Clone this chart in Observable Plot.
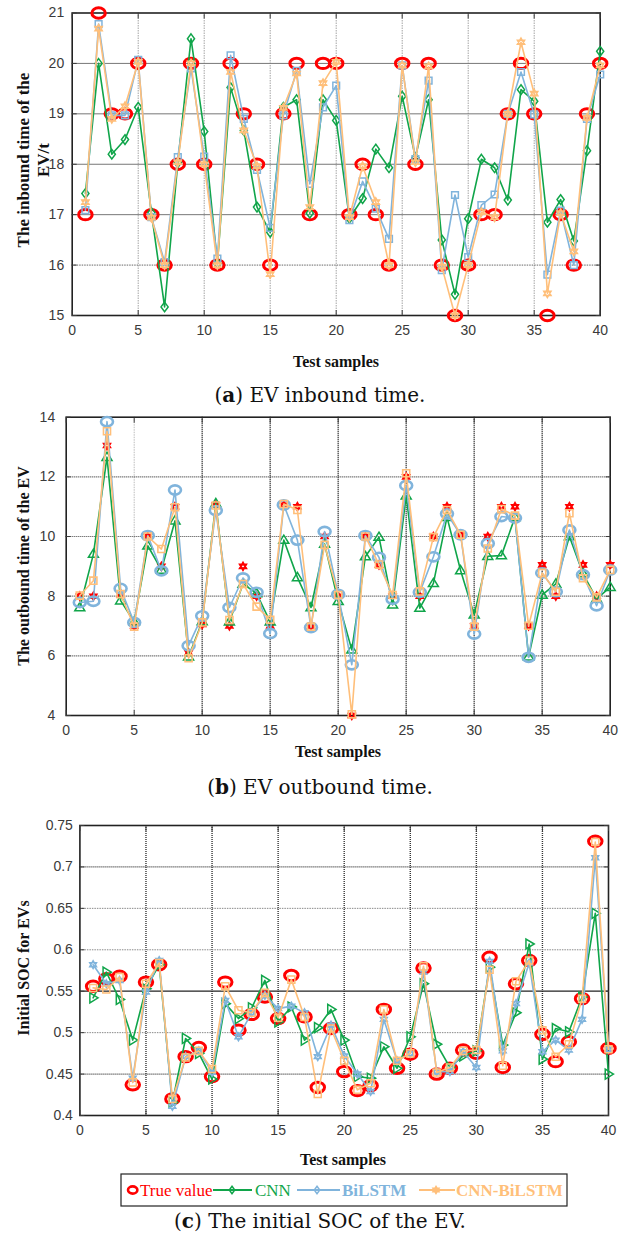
<!DOCTYPE html>
<html>
<head>
<meta charset="utf-8">
<script src="https://cdn.jsdelivr.net/npm/d3@7"></script>
<script src="https://cdn.jsdelivr.net/npm/@observablehq/plot@0.6"></script>
<style>
  body { margin: 0; background: #fff; }
  #root { position: relative; width: 620px; height: 1239px; overflow: hidden; background: #fff; }
  .panel { position: absolute; left: 0; }
  .cap { position: absolute; left: 0; width: 640px; text-align: center; font-family: "DejaVu Serif", serif; font-size: 20px; color: #111; transform: translateY(-50%); white-space: nowrap; }
  .xl { position: absolute; font-family: "Liberation Serif", serif; font-weight: bold; font-size: 16px; color: #111; transform: translate(-50%, -50%); white-space: nowrap; }
  .yl { position: absolute; font-family: "Liberation Serif", serif; font-weight: bold; font-size: 16px; color: #111; transform: translate(-50%, -50%) rotate(-90deg); white-space: nowrap; text-align: center; line-height: 20px; }
</style>
</head>
<body>
<div id="root"></div>
<script>
// ---------------- data ----------------
const samples = [1,2,3,4,5,6,7,8,9,10,11,12,13,14,15,16,17,18,19,20,21,22,23,24,25,26,27,28,29,30,31,32,33,34,35,36,37,38,39,40];
const xTicks = [0,5,10,15,20,25,30,35,40];

// (a) inbound time
const inTicks = [15,16,17,18,19,20,21];
const inTrue = [17,21,19,19,20,17,16,18,20,18,16,20,19,18,16,19,20,17,20,20,17,18,17,16,20,18,20,16,15,16,17,17,19,20,19,15,17,16,19,20];
const inCNN  = [17.42,20.0,18.2,18.49,19.13,17.04,15.17,18.03,20.49,18.65,16.03,19.52,18.67,17.15,16.65,19.13,19.28,17.03,19.28,18.87,16.93,17.32,18.3,17.93,19.35,18.13,19.28,16.5,15.42,16.92,18.1,17.93,17.29,19.48,19.25,16.85,17.3,16.48,18.27,20.24];
const inBi   = [17.09,20.78,18.97,18.97,20.07,16.95,16.06,18.14,19.9,18.15,16.13,20.16,18.9,17.89,16.74,18.97,19.85,17.61,19.13,19.56,16.89,17.66,17.12,16.52,19.96,18.1,19.66,15.9,17.39,16.16,17.19,17.4,19.0,19.83,18.99,15.81,17.08,16.0,18.9,19.78];
const inCB   = [17.25,20.69,18.9,19.15,20.03,16.94,16.0,18.04,20.0,18.0,16.0,19.83,18.67,17.96,15.82,19.12,19.8,17.15,19.61,20.03,16.95,17.96,17.25,16.0,19.96,18.04,19.94,15.97,15.0,16.0,17.05,16.95,19.0,20.42,19.4,15.44,17.03,16.27,18.92,19.96];

// (b) outbound time
const outTicks = [4,6,8,10,12,14];
const outTrue = [8,8,13.05,8.05,7,10,9,11,6.1,7.05,11.05,7,9,8,7,11.05,11,7,10,8,4,10,9.05,8,12,8,10,11,10.05,7,10,11,11,7,9.05,8,11,9.05,8,9.05];
const outCNN  = [7.62,9.41,12.66,7.85,7.14,9.69,8.88,10.53,5.97,7.15,11.11,7.14,8.41,8.09,7.14,9.88,8.63,7.62,9.75,7.83,6.2,9.33,9.98,7.71,11.37,7.6,8.43,10.65,8.86,7.38,9.34,9.36,10.65,5.97,8.04,8.41,10.0,8.76,7.91,8.3];
const outBi   = [7.79,7.83,13.85,8.26,7.12,10.03,8.85,11.56,6.34,7.34,10.87,7.62,8.61,8.13,6.75,11.06,9.88,6.95,10.17,8.06,5.7,10.03,9.3,7.9,11.71,8.13,9.32,10.76,10.06,6.73,9.77,10.67,10.62,5.95,8.78,8.15,10.22,8.72,7.68,8.88];
const outCB   = [8.02,8.52,13.53,8.07,6.98,10.0,9.58,10.98,5.92,7.12,11.04,7.2,8.41,7.65,7.21,11.09,10.89,6.98,9.72,8.04,4.04,10.0,9.06,8.04,12.12,8.16,9.98,10.89,10.06,6.98,9.6,10.92,10.7,7.01,8.78,8.15,10.78,8.6,7.96,8.88];

// (c) initial SOC
const socTicks = [0.4,0.45,0.5,0.55,0.6,0.65,0.7,0.75];
const socTrue = [0.556,0.565,0.568,0.437,0.561,0.582,0.42,0.471,0.482,0.447,0.561,0.503,0.522,0.543,0.517,0.569,0.519,0.434,0.505,0.453,0.43,0.436,0.528,0.457,0.474,0.578,0.45,0.457,0.479,0.475,0.591,0.458,0.559,0.587,0.498,0.465,0.489,0.541,0.731,0.481];
const socCNN  = [0.542,0.573,0.54,0.491,0.553,0.582,0.416,0.493,0.475,0.444,0.535,0.517,0.53,0.563,0.513,0.531,0.491,0.506,0.528,0.491,0.447,0.445,0.483,0.457,0.495,0.559,0.486,0.458,0.472,0.478,0.579,0.485,0.524,0.607,0.468,0.505,0.501,0.543,0.644,0.45];
const socBi   = [0.582,0.559,0.563,0.445,0.549,0.587,0.411,0.471,0.478,0.452,0.539,0.495,0.524,0.545,0.529,0.532,0.524,0.471,0.509,0.472,0.45,0.429,0.516,0.466,0.475,0.573,0.453,0.453,0.477,0.458,0.586,0.478,0.535,0.584,0.477,0.491,0.479,0.516,0.711,0.48];
const socCB   = [0.554,0.552,0.567,0.44,0.559,0.584,0.42,0.47,0.478,0.456,0.556,0.527,0.524,0.548,0.518,0.564,0.519,0.426,0.505,0.466,0.431,0.439,0.528,0.466,0.475,0.58,0.452,0.458,0.478,0.479,0.576,0.46,0.562,0.587,0.503,0.471,0.486,0.541,0.73,0.48];

const seriesNames = ["True value", "CNN", "BiLSTM", "CNN-BiLSTM"];

// ---------------- style ----------------
const RED = "#ff0000", GREEN = "#10a54a", BLUE = "#80b4dc", ORANGE = "#ffbf7a";

const ellipse = {draw(ctx, size) {
  const r = Math.sqrt(size / Math.PI), rx = r * 1.3, ry = r, k = 0.5523;
  ctx.moveTo(rx, 0);
  ctx.bezierCurveTo(rx, k*ry, k*rx, ry, 0, ry);
  ctx.bezierCurveTo(-k*rx, ry, -rx, k*ry, -rx, 0);
  ctx.bezierCurveTo(-rx, -k*ry, -k*rx, -ry, 0, -ry);
  ctx.bezierCurveTo(k*rx, -ry, rx, -k*ry, rx, 0);
  ctx.closePath();
}};
const hexagram = {draw(ctx, size) {
  const r = Math.sqrt(size / Math.PI);
  for (const off of [-90, 90]) {
    for (let i = 0; i < 3; i++) {
      const a = (off + i * 120) * Math.PI / 180;
      const px = r * Math.cos(a), py = r * Math.sin(a);
      if (i) ctx.lineTo(px, py); else ctx.moveTo(px, py);
    }
    ctx.closePath();
  }
}};
const diamond = {draw(ctx, size) {
  const r = Math.sqrt(size / Math.PI);
  ctx.moveTo(0, -r*1.15); ctx.lineTo(r*0.85, 0); ctx.lineTo(0, r*1.15); ctx.lineTo(-r*0.85, 0); ctx.closePath();
}};
const square = {draw(ctx, size) {
  const r = Math.sqrt(size / Math.PI) * 0.8;
  ctx.moveTo(-r, -r); ctx.lineTo(r, -r); ctx.lineTo(r, r); ctx.lineTo(-r, r); ctx.closePath();
}};
const triUp = {draw(ctx, size) {
  const r = Math.sqrt(size / Math.PI);
  ctx.moveTo(0, -r); ctx.lineTo(r*1.0, r*0.65); ctx.lineTo(-r*1.0, r*0.65); ctx.closePath();
}};
const triRight = {draw(ctx, size) {
  const r = Math.sqrt(size / Math.PI);
  ctx.moveTo(r, 0); ctx.lineTo(-r*0.65, -r*1.0); ctx.lineTo(-r*0.65, r*1.0); ctx.closePath();
}};

const rows = (ys) => samples.map((x, i) => ({x, y: ys[i], s: i}));

function axes(xt, yt, fmt, yPad) {
  const none = () => "";
  return [
    Plot.axisX({ticks: xt, tickSize: 0, tickPadding: 10, tickFormat: d => String(d)}),
    Plot.axisY({ticks: yt, tickSize: 0, tickPadding: yPad, tickFormat: fmt}),
    Plot.axisX({ticks: xt, tickSize: -5, tickFormat: none, strokeWidth: 1}),
    Plot.axisX({ticks: xt, anchor: "top", tickSize: -5, tickFormat: none, strokeWidth: 1}),
    Plot.axisY({ticks: yt, tickSize: -5, tickFormat: none, strokeWidth: 1}),
    Plot.axisY({ticks: yt, anchor: "right", tickSize: -5, tickFormat: none, strokeWidth: 1})
  ];
}

function seriesMarks(data, specs) {
  const marks = [];
  specs.forEach((sp, k) => {
    const d = rows(data[k]);
    if (sp.line) marks.push(Plot.line(d, {x: "x", y: "y", stroke: sp.color, strokeWidth: 1.6}));
    marks.push(Plot.dot(d, {x: "x", y: "y", symbol: sp.symbol, r: sp.r, stroke: sp.color, strokeWidth: sp.sw, fill: sp.fill || "none"}));
  });
  return marks;
}

function panel(o) {
  return Plot.plot({
    width: 620, height: o.height,
    marginLeft: o.ml, marginRight: o.mr, marginTop: o.mt, marginBottom: o.mb,
    style: {fontFamily: "'Liberation Sans', Arial, sans-serif", fontSize: "14px", color: "#3a3a3a", background: "transparent", overflow: "visible"},
    x: {domain: [0, 40], label: null},
    y: {domain: o.ydomain, label: null},
    marks: [
      ...o.grid,
      Plot.frame({stroke: "#222", strokeWidth: 1.6}),
      ...axes(xTicks, o.yticks, o.fmt, o.ypad),
      ...seriesMarks(o.data, o.specs)
    ]
  });
}

const dotted = (stroke, op) => ({stroke, strokeOpacity: op, strokeWidth: 1, strokeDasharray: "1.5,1"});

const root = document.getElementById("root");

function place(node, top) {
  node.classList.add("panel");
  node.style.top = top + "px";
  root.appendChild(node);
}

// ---------- panel (a) ----------
const pa = panel({
  height: 375, ml: 71.7, mr: 20.3, mt: 12.5, mb: 60,
  ydomain: [15, 21], yticks: inTicks, fmt: d => String(d), ypad: 8,
  grid: [
    Plot.ruleX([5,10,15,20,25,30,35], dotted("#999", 0.9)),
    Plot.ruleY([17,18,19,20], {stroke: "#777", strokeWidth: 1}),
    Plot.ruleY([16], dotted("#666", 1))
  ],
  data: [inTrue, inCNN, inBi, inCB],
  specs: [
    {symbol: ellipse, r: 5.2, color: RED, sw: 3, line: false},
    {symbol: diamond, r: 4.2, color: GREEN, sw: 1.5, line: true},
    {symbol: square, r: 4.2, color: BLUE, sw: 1.5, line: true},
    {symbol: hexagram, r: 4.2, color: ORANGE, sw: 1.5, line: true}
  ]
});
place(pa, 0);

// ---------- panel (b) ----------
const pb = panel({
  height: 340, ml: 65.7, mr: 10.3, mt: 16.7, mb: 25,
  ydomain: [4, 14], yticks: outTicks, fmt: d => String(d), ypad: 11,
  grid: [
    Plot.ruleX([5], dotted("#bbb", 1)),
    Plot.ruleX([10,15,20,25,30,35], {stroke: "#333", strokeWidth: 1.6, strokeDasharray: "1,1"}),
    Plot.ruleY([6,8,10,12], {stroke: "#444", strokeWidth: 1.2, strokeDasharray: "1,1"})
  ],
  data: [outTrue, outCNN, outBi, outCB],
  specs: [
    {symbol: hexagram, r: 3.6, color: RED, sw: 2, line: false},
    {symbol: triUp, r: 5, color: GREEN, sw: 1.5, line: true},
    {symbol: ellipse, r: 4.6, color: BLUE, sw: 2.6, line: true},
    {symbol: square, r: 4.4, color: ORANGE, sw: 1.6, line: true}
  ]
});
place(pb, 400);

// ---------- panel (c) ----------
const pc = panel({
  height: 330, ml: 79.4, mr: 12, mt: 15, mb: 25,
  ydomain: [0.4, 0.75], yticks: socTicks, fmt: d => String(d), ypad: 7,
  grid: [
    Plot.ruleX([5,10,15,20,25,30,35], {stroke: "#333", strokeWidth: 1.4, strokeDasharray: "1,1"}),
    Plot.ruleY([0.45, 0.7], {stroke: "#333", strokeWidth: 1.3, strokeDasharray: "1,1"}),
    Plot.ruleY([0.5, 0.6, 0.65], dotted("#888", 1)),
    Plot.ruleY([0.55], {stroke: "#222", strokeWidth: 1.2})
  ],
  data: [socTrue, socCNN, socBi, socCB],
  specs: [
    {symbol: ellipse, r: 5.2, color: RED, sw: 3, line: false},
    {symbol: triRight, r: 5, color: GREEN, sw: 1.5, line: true},
    {symbol: hexagram, r: 4, color: BLUE, sw: 1.4, line: true},
    {symbol: square, r: 4.4, color: ORANGE, sw: 1.5, line: true}
  ]
});
place(pc, 810);

// ---------- texts ----------
function addDiv(cls, html, x, y, extra) {
  const d = document.createElement("div");
  d.className = cls;
  d.innerHTML = html;
  d.style.left = x + "px";
  d.style.top = y + "px";
  if (extra) Object.assign(d.style, extra);
  root.appendChild(d);
  return d;
}
addDiv("xl", "Test samples", 336, 362);
addDiv("xl", "Test samples", 338, 752);
addDiv("xl", "Test samples", 343, 1160);

addDiv("yl", "The inbound time of the<br>EV/t", 34, 160, {fontSize: "17px"});
addDiv("yl", "The outbound time of the EV", 24, 566, {fontSize: "16px"});
addDiv("yl", "Initial SOC for EVs", 24, 968, {fontSize: "16px"});

function addCap(html, y) {
  const d = document.createElement("div");
  d.className = "cap";
  d.innerHTML = html;
  d.style.top = y + "px";
  root.appendChild(d);
}
addCap("(<b>a</b>) EV inbound time.", 395);
addCap("(<b>b</b>) EV outbound time.", 787);
addCap("(<b>c</b>) The initial SOC of the EV.", 1221);

// ---------- legend ----------
const legend = d3.select(root).append("svg")
  .attr("width", 448).attr("height", 34)
  .style("position", "absolute").style("left", "120px").style("top", "1173px");
legend.append("rect").attr("x", 1).attr("y", 1).attr("width", 446).attr("height", 32)
  .attr("fill", "#fff").attr("stroke", "#222").attr("stroke-width", 1.2);
const lx = -120, ly = 17;
const legItems = [
  {name: seriesNames[0], color: RED, line: null, mark: 132.7, sym: ellipse, r: 3.6, sw: 2.6, tx: 140, bold: false},
  {name: seriesNames[1], color: GREEN, line: [213, 252], mark: 232, sym: diamond, r: 3.2, sw: 1.5, tx: 255, bold: false},
  {name: seriesNames[2], color: BLUE, line: [297, 340], mark: 317, sym: diamond, r: 3.2, sw: 1.5, tx: 342, bold: true},
  {name: seriesNames[3], color: ORANGE, line: [419, 455], mark: 436, sym: hexagram, r: 3.2, sw: 1.8, tx: 456, bold: true}
];
for (const it of legItems) {
  if (it.line) legend.append("line").attr("x1", it.line[0] + lx).attr("x2", it.line[1] + lx)
    .attr("y1", ly).attr("y2", ly).attr("stroke", it.color).attr("stroke-width", 1.8);
  legend.append("path").attr("d", d3.symbol(it.sym, it.r * it.r * Math.PI)())
    .attr("transform", `translate(${it.mark + lx},${ly})`)
    .attr("fill", it.name === "CNN-BiLSTM" ? it.color : "none").attr("stroke", it.color).attr("stroke-width", it.sw);
  legend.append("text").attr("x", it.tx + lx).attr("y", ly).attr("dy", "0.35em")
    .attr("fill", it.color).attr("font-family", "'Liberation Serif', serif").attr("font-size", 17)
    .attr("font-weight", it.bold ? "bold" : "normal").text(it.name);
}
</script>
</body>
</html>
